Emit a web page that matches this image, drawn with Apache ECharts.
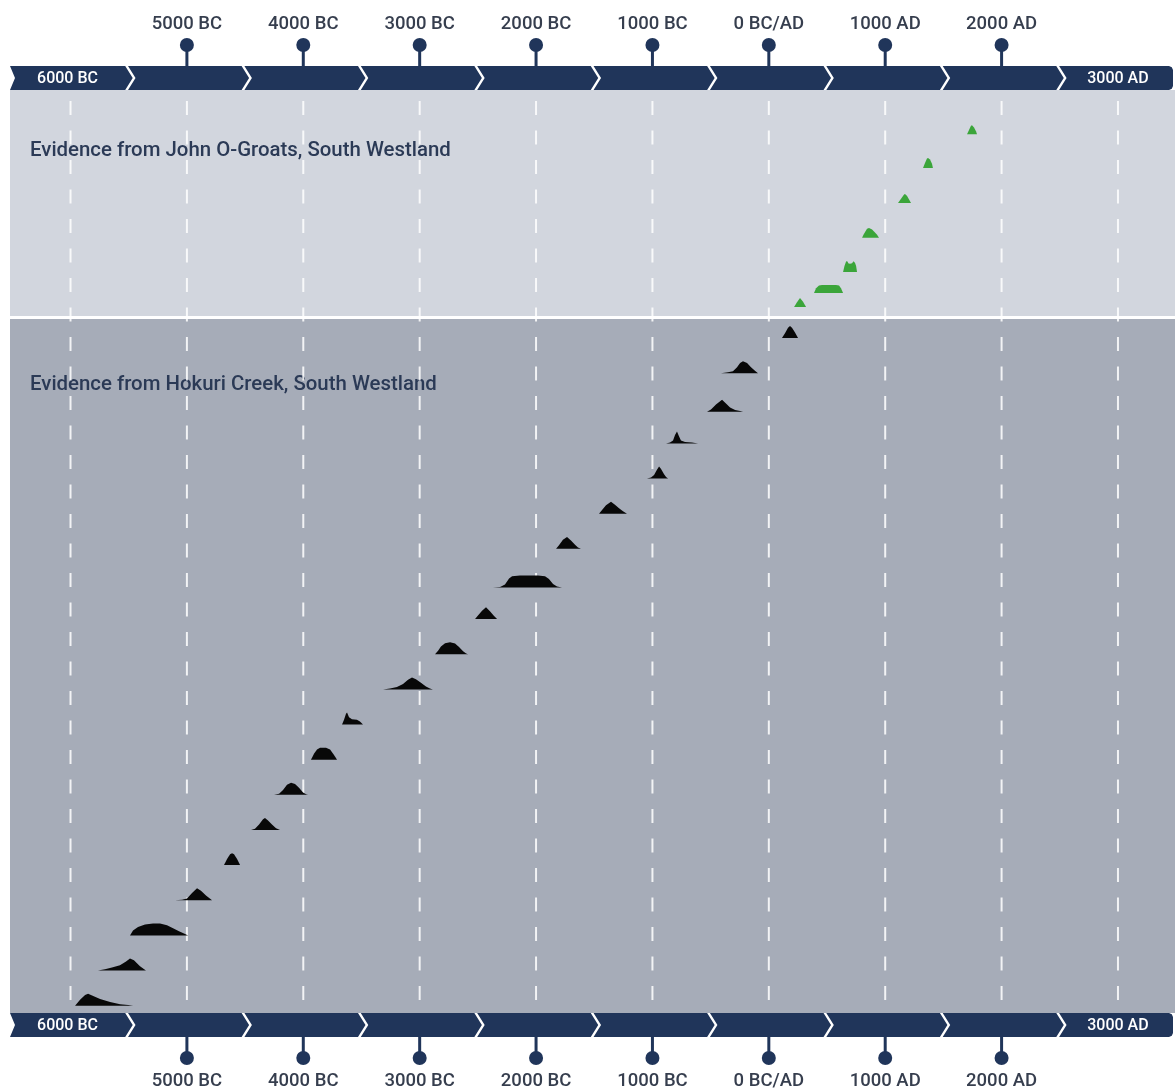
<!DOCTYPE html>
<html>
<head>
<meta charset="utf-8">
<title>Hokuri Creek and John O-Groats radiocarbon evidence</title>
<script src="https://cdn.jsdelivr.net/npm/echarts@6/dist/echarts.min.js"></script>
<style>
  html, body { margin: 0; padding: 0; background: #ffffff; }
  #chart { width: 1175px; height: 1090px; }
</style>
</head>
<body>
<div id="chart"></div>
<script>
// ---- Timeline scale -------------------------------------------------------
const X_MIN = -6520;
const X_MAX = 3490;
const tickYears = [-6000, -5000, -4000, -3000, -2000, -1000, 0, 1000, 2000, 3000];
const pinYears = [-5000, -4000, -3000, -2000, -1000, 0, 1000, 2000];
const pinLabels = ['5000 BC', '4000 BC', '3000 BC', '2000 BC', '1000 BC', '0 BC/AD', '1000 AD', '2000 AD'];
const endYears = [-6000, 3000];
const endLabels = ['6000 BC', '3000 AD'];

// ---- Site titles ----------------------------------------------------------
const siteTitles = ['Evidence from John O-Groats, South Westland', 'Evidence from Hokuri Creek, South Westland'];

// ---- Calibrated age distributions: [year, relative probability] -----------
// Hokuri Creek, oldest (bottom) to youngest (top)
const hokuriLevels = [1, 2, 3, 4, 5, 6, 7, 8, 9, 10, 11, 12, 12.9, 14, 15, 16, 17, 17.9, 19, 20];
const hokuriProfiles = [
  [[-5961, 0], [-5918, 0.5], [-5875, 0.9], [-5849, 1], [-5815, 0.85], [-5746, 0.55], [-5660, 0.3], [-5574, 0.12], [-5505, 0.05], [-5462, 0]],
  [[-5764, 0], [-5704, 0.1], [-5644, 0.25], [-5575, 0.45], [-5523, 0.75], [-5489, 1], [-5455, 0.85], [-5403, 0.35], [-5352, 0]],
  [[-5489, 0], [-5463, 0.4], [-5420, 0.7], [-5360, 0.9], [-5291, 1], [-5231, 1], [-5171, 0.85], [-5119, 0.6], [-5068, 0.35], [-5025, 0.15], [-4990, 0]],
  [[-5102, 0], [-5042, 0.05], [-4999, 0.15], [-4956, 0.6], [-4913, 1], [-4879, 0.8], [-4836, 0.4], [-4784, 0]],
  [[-4681, 0], [-4655, 0.5], [-4629, 0.9], [-4612, 1], [-4595, 0.9], [-4569, 0.5], [-4543, 0]],
  [[-4449, 0], [-4415, 0.1], [-4380, 0.45], [-4346, 0.9], [-4329, 1], [-4303, 0.8], [-4269, 0.45], [-4234, 0.15], [-4200, 0]],
  [[-4251, 0], [-4208, 0.08], [-4174, 0.4], [-4140, 0.85], [-4105, 1], [-4071, 0.9], [-4037, 0.6], [-4002, 0.2], [-3976, 0.05], [-3959, 0]],
  [[-3934, 0], [-3908, 0.5], [-3882, 0.85], [-3856, 1], [-3805, 1], [-3770, 0.85], [-3736, 0.4], [-3710, 0]],
  [[-3667, 0], [-3650, 0.4], [-3633, 0.9], [-3624, 1], [-3607, 0.6], [-3582, 0.45], [-3539, 0.4], [-3513, 0.25], [-3487, 0]],
  [[-3315, 0], [-3255, 0.08], [-3195, 0.2], [-3143, 0.45], [-3100, 0.8], [-3066, 1], [-3032, 0.85], [-2989, 0.55], [-2946, 0.25], [-2912, 0.08], [-2886, 0]],
  [[-2868, 0], [-2842, 0.3], [-2817, 0.65], [-2782, 0.92], [-2739, 1], [-2696, 0.9], [-2662, 0.6], [-2627, 0.25], [-2601, 0.06], [-2584, 0]],
  [[-2524, 0], [-2499, 0.3], [-2464, 0.7], [-2430, 1], [-2396, 0.65], [-2361, 0.25], [-2335, 0]],
  [[-2370, 0], [-2309, 0.05], [-2267, 0.25], [-2232, 0.75], [-2206, 0.95], [-2138, 1], [-1983, 1], [-1923, 0.95], [-1889, 0.7], [-1854, 0.3], [-1820, 0.08], [-1777, 0]],
  [[-1828, 0], [-1803, 0.3], [-1769, 0.75], [-1734, 1], [-1700, 0.7], [-1665, 0.35], [-1640, 0.12], [-1614, 0]],
  [[-1459, 0], [-1433, 0.3], [-1399, 0.7], [-1356, 1], [-1322, 0.75], [-1287, 0.45], [-1253, 0.2], [-1219, 0]],
  [[-1047, 0], [-1012, 0.08], [-986, 0.3], [-960, 0.75], [-943, 1], [-926, 0.8], [-900, 0.35], [-883, 0.12], [-866, 0]],
  [[-883, 0], [-849, 0.08], [-823, 0.25], [-806, 0.7], [-789, 1], [-772, 0.6], [-755, 0.25], [-720, 0.12], [-660, 0.08], [-608, 0]],
  [[-531, 0], [-497, 0.2], [-454, 0.6], [-402, 1], [-368, 0.7], [-333, 0.35], [-290, 0.15], [-247, 0.07], [-221, 0]],
  [[-411, 0], [-351, 0.07], [-308, 0.15], [-273, 0.5], [-247, 0.85], [-222, 1], [-187, 0.85], [-153, 0.5], [-119, 0.2], [-93, 0]],
  [[113, 0], [139, 0.4], [165, 0.85], [182, 1], [199, 0.85], [225, 0.45], [251, 0]]
];

// John O-Groats, oldest (bottom) to youngest (top)
const johnLevels = [20.88, 21.28, 21.88, 22.85, 23.84, 24.84, 25.8];
const johnProfiles = [
  [[217, 0], [242, 0.4], [268, 0.75], [294, 0.45], [320, 0]],
  [[388, 0], [406, 0.4], [431, 0.63], [457, 0.67], [577, 0.67], [603, 0.63], [620, 0.4], [638, 0]],
  [[638, 0], [650, 0.5], [663, 0.85], [672, 0.92], [685, 0.7], [698, 0.68], [715, 0.72], [728, 0.9], [741, 0.75], [750, 0.5], [758, 0]],
  [[801, 0], [818, 0.35], [844, 0.75], [861, 0.83], [887, 0.7], [912, 0.45], [930, 0.25], [947, 0]],
  [[1110, 0], [1136, 0.35], [1162, 0.72], [1170, 0.75], [1188, 0.6], [1205, 0.3], [1222, 0]],
  [[1325, 0], [1342, 0.4], [1359, 0.78], [1368, 0.83], [1385, 0.7], [1402, 0.35], [1410, 0]],
  [[1703, 0], [1720, 0.35], [1737, 0.7], [1746, 0.75], [1763, 0.55], [1780, 0.25], [1789, 0]]
];

// ---- Styling --------------------------------------------------------------
const FONT = 'Roboto, "Noto Sans", sans-serif';
const NAVY = '#20355a';
const LABEL_COLOR = '#363e4e';
const TITLE_COLOR = '#2b3a56';
const PEAK = 0.34;            // height of a probability peak, in row units
const TOP_BAND = [66, 90];    // timeline ribbon above the plot
const BOTTOM_BAND = [1013, 1037];
const DASH_TOP = 101, DASH_BOTTOM = 1012;

const chart = echarts.init(document.getElementById('chart'), null, { renderer: 'canvas' });

function densitySeries(name, profiles, levels, color) {
  return {
    name: name,
    type: 'custom',
    z: 5,
    data: levels.map((lv, i) => [profiles[i][0][0], lv]),
    renderItem: function (params, api) {
      const i = params.dataIndex;
      const lv = levels[i];
      const pts = profiles[i].map(p => api.coord([p[0], lv + p[1] * PEAK]));
      return { type: 'polygon', shape: { points: pts }, style: { fill: color } };
    }
  };
}

function ribbon(api, idx, band) {
  const n = tickYears.length;
  const yr = tickYears[idx];
  const top = band[0], bot = band[1], mid = (top + bot) / 2;
  const depth = 7.5, gap = 2.8;
  const children = [];
  let pts;
  if (idx === 0) {
    const L = api.coord([X_MIN, 0])[0];
    const R = api.coord([yr + 500, 0])[0] - 3.5;
    pts = [[L, top], [R, top], [R + depth, mid], [R, bot], [L, bot], [L + 5, mid]];
  } else if (idx === n - 1) {
    const L = api.coord([yr - 500, 0])[0] - 3.5 + gap;
    const R = api.coord([X_MAX, 0])[0] - 2;
    pts = [[L, top], [R - 4, top], [R - 1.2, top + 1.2], [R, top + 4], [R, bot - 4], [R - 1.2, bot - 1.2], [R - 4, bot], [L, bot], [L + depth, mid]];
  } else {
    const L = api.coord([yr - 500, 0])[0] - 3.5 + gap;
    const R = api.coord([yr + 500, 0])[0] - 3.5;
    pts = [[L, top], [R, top], [R + depth, mid], [R, bot], [L, bot], [L + depth, mid]];
  }
  children.push({ type: 'polygon', shape: { points: pts }, style: { fill: NAVY } });
  const e = endYears.indexOf(yr);
  if (e >= 0) {
    const cx = api.coord([yr, 0])[0] - (e === 0 ? 3 : 0);
    children.push({
      type: 'text',
      style: {
        x: cx, y: mid + 0.5, text: endLabels[e], fill: '#ffffff',
        font: '500 16px ' + FONT, align: 'center', verticalAlign: 'middle'
      }
    });
  }
  return children;
}

const option = {
  animation: false,
  backgroundColor: '#ffffff',
  grid: { left: 10, width: 1165, top: 92, height: 948.8 },
  xAxis: { type: 'value', min: X_MIN, max: X_MAX, show: false },
  yAxis: { type: 'value', min: 0, max: 27, show: false },
  graphic: [
    { type: 'rect', z: 0, shape: { x: 10, y: 90, width: 1165, height: 226 }, style: { fill: '#d2d6de' } },
    { type: 'rect', z: 0, shape: { x: 10, y: 319, width: 1165, height: 694 }, style: { fill: '#a6acb8' } },
    {
      type: 'text', z: 1, left: 30, top: 141,
      style: { text: siteTitles[0], fill: TITLE_COLOR, font: '500 20.4px ' + FONT }
    },
    {
      type: 'text', z: 1, left: 30, top: 375,
      style: { text: siteTitles[1], fill: TITLE_COLOR, font: '500 20.4px ' + FONT }
    }
  ],
  series: [
    {
      name: 'gridlines',
      type: 'custom',
      z: 1,
      silent: true,
      data: tickYears.map(y => [y, 0]),
      renderItem: function (params, api) {
        const x = api.coord([api.value(0), 0])[0];
        return {
          type: 'line',
          shape: { x1: x, y1: DASH_TOP, x2: x, y2: DASH_BOTTOM },
          style: { stroke: 'rgba(255,255,255,0.85)', lineWidth: 2, lineDash: [14, 15.5] }
        };
      }
    },
    densitySeries('Hokuri Creek', hokuriProfiles, hokuriLevels, '#080808'),
    densitySeries('John O-Groats', johnProfiles, johnLevels, '#3ba53a'),
    {
      name: 'timeline',
      type: 'custom',
      z: 8,
      silent: true,
      data: tickYears.map(y => [y, 0]),
      renderItem: function (params, api) {
        return {
          type: 'group',
          children: ribbon(api, params.dataIndex, TOP_BAND).concat(ribbon(api, params.dataIndex, BOTTOM_BAND))
        };
      }
    },
    {
      name: 'pins',
      type: 'custom',
      z: 9,
      silent: true,
      data: pinYears.map(y => [y, 0]),
      renderItem: function (params, api) {
        const x = api.coord([api.value(0), 0])[0];
        const label = pinLabels[params.dataIndex];
        const tStyle = { fill: LABEL_COLOR, font: '500 18.5px ' + FONT, align: 'center', verticalAlign: 'middle' };
        return {
          type: 'group',
          children: [
            { type: 'line', shape: { x1: x, y1: 45, x2: x, y2: TOP_BAND[0] + 1 }, style: { stroke: NAVY, lineWidth: 3 } },
            { type: 'circle', shape: { cx: x, cy: 45, r: 7 }, style: { fill: NAVY } },
            { type: 'text', style: Object.assign({ x: x, y: 24.5, text: label }, tStyle) },
            { type: 'line', shape: { x1: x, y1: BOTTOM_BAND[1] - 1, x2: x, y2: 1058 }, style: { stroke: NAVY, lineWidth: 3 } },
            { type: 'circle', shape: { cx: x, cy: 1058, r: 7 }, style: { fill: NAVY } },
            { type: 'text', style: Object.assign({ x: x, y: 1081.5, text: label }, tStyle) }
          ]
        };
      }
    }
  ]
};

chart.setOption(option);
</script>
</body>
</html>
